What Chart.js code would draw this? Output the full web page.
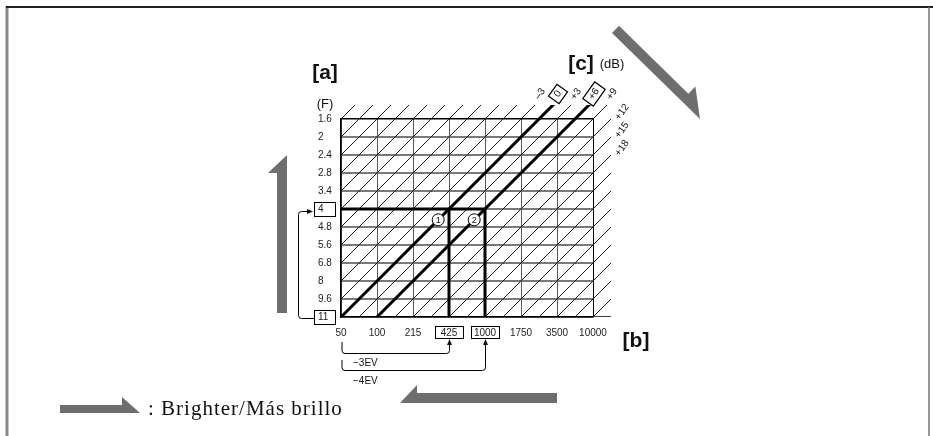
<!DOCTYPE html>
<html>
<head>
<meta charset="utf-8">
<script src="https://cdn.jsdelivr.net/npm/chart.js@4.4.1/dist/chart.umd.min.js"></script>
<style>
  html, body { margin: 0; padding: 0; background: #fff; }
</style>
</head>
<body>
<canvas id="nomogram" width="933" height="436"></canvas>
<script>
// F-number rows, top to bottom (half stops)
const apertures = ['1.6', '2', '2.4', '2.8', '3.4', '4', '4.8', '5.6', '6.8', '8', '9.6', '11'];
// shutter speed columns, left to right (one stop each)
const shutters = ['50', '100', '215', '425', '1000', '1750', '3500', '10000'];
// gain lines that carry a label (dB)
const gainLabelDb = [-3, 0, 3, 6, 9, 12, 15, 18];
// every diagonal on the chart (dB)
const gainLines = [-33, -30, -27, -24, -21, -18, -15, -12, -9, -6, -3, 0, 3, 6, 9, 12, 15, 18, 21, 24, 27, 30, 33, 36, 39, 42];
const boldGains = [0, 6];
const boxedApertures = ['4', '11'];
const boxedShutters = ['425', '1000'];
// worked example: F4 reached at 425 (0 dB) and 1000 (+6 dB)
const exampleF = '4';
const exampleShutters = ['425', '1000'];
const evSteps = ['\u22123EV', '\u22124EV'];

const dbPerColumn = 6;   // 6 dB = 1 stop = 1 column
const rowsPerColumn = 2; // rows are half stops
const lastRow = apertures.length - 1;
const fRow = f => apertures.indexOf(f);
const sCol = s => shutters.indexOf(s);
const fmtDb = d => (d > 0 ? '+' : d < 0 ? '\u2013' : '') + Math.abs(d);

// let the diagonals run a little past the top and right edges
const overflow = { left: 0, top: 14, right: 18, bottom: 0 };

function gainLine(db) {
  const x0 = db / dbPerColumn;
  return [{ x: x0, y: lastRow }, { x: x0 + 6.5, y: lastRow - 6.5 * rowsPerColumn }];
}
function onGain(db, col) {
  return { x: col, y: lastRow - rowsPerColumn * (col - db / dbPerColumn) };
}

const datasets = [];
gainLines.forEach(db => {
  datasets.push({ data: gainLine(db), borderColor: '#1a1a1a', borderWidth: 1, clip: overflow, order: 3 });
});
boldGains.forEach(db => {
  datasets.push({ data: gainLine(db), borderColor: '#000', borderWidth: 3, clip: overflow, order: 1 });
});
// base line runs on under the overflow
datasets.push({ data: [{ x: 0, y: lastRow }, { x: shutters.length - 0.5, y: lastRow }], borderColor: '#000', borderWidth: 1.5, clip: overflow, order: 2 });
// example path
datasets.push({ data: [{ x: 0, y: fRow(exampleF) }, { x: sCol(exampleShutters[1]), y: fRow(exampleF) }], borderColor: '#000', borderWidth: 3, order: 1 });
exampleShutters.forEach(s => {
  datasets.push({ data: [{ x: sCol(s), y: fRow(exampleF) }, { x: sCol(s), y: lastRow }], borderColor: '#000', borderWidth: 3, order: 1 });
});
// numbered markers on the two bold lines, just below F4
const markerIndex = datasets.length;
datasets.push({
  data: boldGains.map((db, i) => onGain(db, sCol(exampleShutters[i]) - 0.3)),
  showLine: false, pointRadius: 6, pointBackgroundColor: '#fff', pointBorderColor: '#000', pointBorderWidth: 1, order: 0
});

function halfArrow(ctx, tx, ty, hx, hy, w, headLen, barb, side) {
  const len = Math.hypot(hx - tx, hy - ty);
  const ux = (hx - tx) / len, uy = (hy - ty) / len;
  const nx = uy * side, ny = -ux * side;
  const bx = hx - ux * headLen, by = hy - uy * headLen;
  ctx.beginPath();
  ctx.moveTo(tx, ty);
  ctx.lineTo(hx, hy);
  ctx.lineTo(bx + nx * (w + barb), by + ny * (w + barb));
  ctx.lineTo(bx + nx * w, by + ny * w);
  ctx.lineTo(tx + nx * w, ty + ny * w);
  ctx.closePath();
  ctx.fill();
}
function arrowHead(ctx, x, y, dir) {
  ctx.beginPath();
  if (dir === 'up') { ctx.moveTo(x, y); ctx.lineTo(x - 2.5, y + 6); ctx.lineTo(x + 2.5, y + 6); }
  else { ctx.moveTo(x, y); ctx.lineTo(x - 6, y - 2.5); ctx.lineTo(x - 6, y + 2.5); }
  ctx.closePath();
  ctx.fill();
}

const annotations = {
  id: 'annotations',
  afterDatasetsDraw(chart) {
    const { ctx, chartArea: a, scales: { x: xs, y: ys } } = chart;
    const sans = '"Liberation Sans", Arial, sans-serif';
    ctx.save();

    // page frame
    ctx.strokeStyle = '#888'; ctx.lineWidth = 3;
    ctx.beginPath(); ctx.moveTo(7, 6); ctx.lineTo(7, 436); ctx.stroke();
    ctx.strokeStyle = '#222'; ctx.lineWidth = 2;
    ctx.beginPath(); ctx.moveTo(6, 7); ctx.lineTo(933, 7); ctx.stroke();
    ctx.strokeStyle = '#777'; ctx.lineWidth = 1.5;
    ctx.beginPath(); ctx.moveTo(929, 7); ctx.lineTo(929, 436); ctx.stroke();

    ctx.strokeStyle = '#000'; ctx.fillStyle = '#111'; ctx.lineWidth = 1;

    // boxed tick labels
    boxedApertures.forEach(f => {
      const yp = ys.getPixelForValue(fRow(f));
      ctx.strokeRect(a.left - 26.5, Math.round(yp) - 6.5, 21, 14);
    });
    boxedShutters.forEach(s => {
      const xp = xs.getPixelForValue(sCol(s));
      ctx.strokeRect(Math.round(xp) - 13.5, a.bottom + 9.5, 28, 12);
    });

    // gain labels at the line ends
    const top = a.top - overflow.top, right = a.right + overflow.right;
    const yb = ys.getPixelForValue(lastRow);
    const slope = (ys.getPixelForValue(lastRow - rowsPerColumn) - yb) / (xs.getPixelForValue(1) - xs.getPixelForValue(0));
    ctx.font = '10px ' + sans;
    ctx.textAlign = 'center'; ctx.textBaseline = 'middle';
    gainLabelDb.forEach(db => {
      const x0 = xs.getPixelForValue(db / dbPerColumn);
      let ex = x0 + (top - yb) / slope, ey = top, lx, ly;
      if (ex <= right) { lx = ex + 5; ly = ey - 11; }
      else { ex = right; ey = yb + slope * (right - x0); lx = ex + 11; ly = ey - 7; }
      const txt = fmtDb(db);
      ctx.save();
      ctx.translate(lx, ly);
      ctx.rotate(-0.95);
      ctx.fillText(txt, 0, 0);
      if (boldGains.includes(db)) {
        const w = ctx.measureText(txt).width + 9;
        ctx.lineWidth = 1.2;
        ctx.strokeRect(-w / 2, -6.5, w, 13);
      }
      ctx.restore();
    });

    // marker numbers
    const meta = chart.getDatasetMeta(markerIndex);
    ctx.font = '9px ' + sans;
    meta.data.forEach((p, i) => ctx.fillText(String(i + 1), p.x, p.y + 0.5));

    // EV brackets under the shutter axis
    const x0 = xs.getPixelForValue(0) + 1;
    ctx.lineWidth = 1;
    ctx.font = '10px ' + sans;
    ctx.textAlign = 'left';
    exampleShutters.forEach((s, i) => {
      const xp = Math.round(xs.getPixelForValue(sCol(s))) + 0.5;
      const yTop = a.bottom + 25 + i * 18;
      const yLow = a.bottom + 36.5 + i * 17;
      ctx.beginPath();
      ctx.moveTo(x0, yTop);
      ctx.arcTo(x0, yLow, x0 + 6, yLow, 3);
      ctx.arcTo(xp, yLow, xp, yLow - 6, 3);
      ctx.lineTo(xp, a.bottom + 26);
      ctx.stroke();
      arrowHead(ctx, xp, a.bottom + 22, 'up');
      ctx.fillText(evSteps[i], x0 + 11, yLow + 10 + i);
    });

    // aperture bracket on the left
    const y4 = Math.round(ys.getPixelForValue(fRow(exampleF))) + 2.5;
    const y11 = Math.round(ys.getPixelForValue(lastRow)) + 1.5;
    const bx = a.left - 42.5;
    ctx.beginPath();
    ctx.moveTo(a.left - 27, y11);
    ctx.arcTo(bx, y11, bx, y11 - 6, 3);
    ctx.arcTo(bx, y4, bx + 6, y4, 3);
    ctx.lineTo(a.left - 33, y4);
    ctx.stroke();
    arrowHead(ctx, a.left - 28, y4, 'right');

    // axis captions
    ctx.fillStyle = '#111';
    ctx.textAlign = 'center';
    ctx.font = 'bold 21px "Liberation Sans Narrow", ' + sans;
    ctx.fillText('[a]', a.left - 16, a.top - 46);
    ctx.fillText('[c]', a.right - 12, a.top - 55);
    ctx.fillText('[b]', a.right + 43, a.bottom + 24);
    ctx.font = '13px ' + sans;
    ctx.fillText('(F)', a.left - 16, a.top - 15);
    ctx.fillText('(dB)', a.right + 19, a.top - 55);

    // grey direction arrows
    ctx.fillStyle = '#6e6e6e';
    halfArrow(ctx, a.left - 54, a.bottom - 4, a.left - 54, a.top + 36, 10, 18, 9, 1);
    halfArrow(ctx, a.right + 19, a.top - 86, a.right + 107, a.top, 10, 26, 10, 1);
    halfArrow(ctx, a.left + 216, a.bottom + 86, a.left + 59, a.bottom + 86, 10, 17, 8, -1);
    // legend
    halfArrow(ctx, 60, 413, 140, 413, 8, 18, 8, 1);
    ctx.fillStyle = '#111';
    ctx.textAlign = 'left'; ctx.textBaseline = 'alphabetic';
    ctx.font = '21px "Liberation Serif", "Times New Roman", serif';
    ctx.letterSpacing = '1px';
    ctx.fillText(': Brighter/M\u00e1s brillo', 148, 415);
    ctx.letterSpacing = '0px';

    ctx.restore();
  }
};

Chart.defaults.font.family = '"Liberation Sans", Arial, sans-serif';
Chart.defaults.color = '#222';

new Chart(document.getElementById('nomogram'), {
  type: 'scatter',
  data: { datasets: datasets.map(d => Object.assign({ showLine: true, pointRadius: 0, fill: false }, d)) },
  options: {
    responsive: false,
    animation: false,
    events: [],
    layout: { autoPadding: false, padding: { left: 318, top: 119, right: 340, bottom: 89 } },
    plugins: { legend: { display: false }, tooltip: { enabled: false } },
    scales: {
      x: {
        type: 'linear', min: 0, max: shutters.length - 1,
        afterFit: s => { s.height = 30; s.paddingLeft = 0; s.paddingRight = 0; },
        ticks: { stepSize: 1, padding: 10, font: { size: 10 }, callback: v => shutters[v] },
        grid: { drawTicks: false, lineWidth: 1, color: c => c.tick && c.tick.value === shutters.length - 1 ? '#000' : '#5a5a5a' },
        border: { display: true, color: '#000', width: 1.5 }
      },
      y: {
        type: 'linear', reverse: true, min: 0, max: lastRow,
        afterFit: s => { s.width = 23; s.paddingTop = 0; s.paddingBottom = 0; },
        ticks: { stepSize: 1, crossAlign: 'far', font: { size: 10 }, callback: v => apertures[v] },
        grid: {
          drawTicks: false,
          lineWidth: c => c.tick && c.tick.value === 0 ? 1.5 : 2,
          color: c => c.tick && c.tick.value === 0 ? '#000' : '#7a7a7a'
        },
        border: { display: true, color: '#000', width: 1.5 }
      }
    }
  },
  plugins: [annotations]
});
</script>
</body>
</html>
